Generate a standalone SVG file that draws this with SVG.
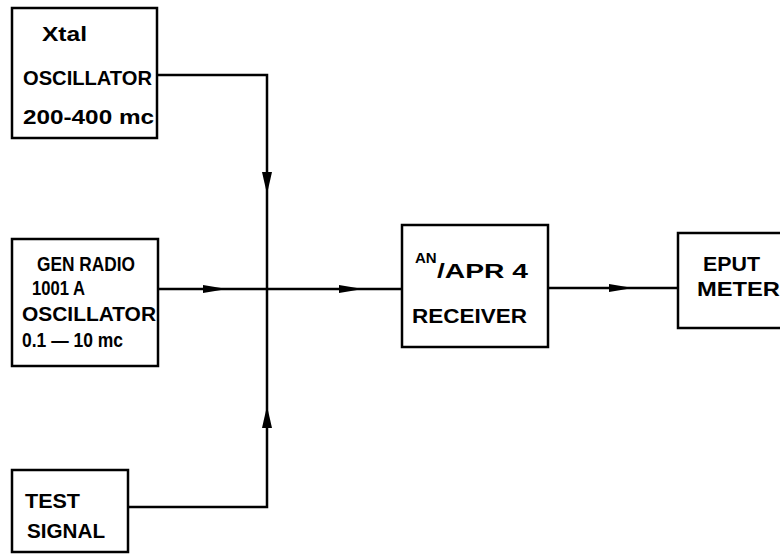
<svg xmlns="http://www.w3.org/2000/svg" width="780" height="554" viewBox="0 0 780 554">
<style>
.box{fill:#fff;stroke:#000;stroke-width:2.5}
.ln{fill:none;stroke:#000;stroke-width:2.5;stroke-linejoin:miter}
.t{font-family:"Liberation Sans",Arial,sans-serif;font-weight:bold;font-size:20px;fill:#000}
.ah{fill:#000}
</style>
<rect width="780" height="554" fill="#fff"/>
<g id="connectors">
<path class="ln" d="M157,75 H267 V507 H128"/>
<path class="ln" d="M158,289 H402"/>
<path class="ln" d="M548,288 H678"/>
<polygon class="ah" points="262,172 272,172 267,194"/>
<polygon class="ah" points="267,406 262,428 272,428"/>
<polygon class="ah" points="203,285 203,293 227,289"/>
<polygon class="ah" points="339,285 339,293 363,289"/>
<polygon class="ah" points="609,284 609,292 633,288"/>
</g>
<g id="xtal">
<rect class="box" x="12" y="8" width="145" height="130"/>
<text class="t" x="42" y="41" textLength="45" lengthAdjust="spacingAndGlyphs">Xtal</text>
<text class="t" x="23" y="85" textLength="129" lengthAdjust="spacingAndGlyphs">OSCILLATOR</text>
<text class="t" x="23" y="124" textLength="131" lengthAdjust="spacingAndGlyphs">200-400 mc</text>
</g>
<g id="genradio">
<rect class="box" x="12" y="239" width="146" height="127"/>
<text class="t" x="37" y="271" textLength="98" lengthAdjust="spacingAndGlyphs">GEN RADIO</text>
<text class="t" x="32" y="295" textLength="53" lengthAdjust="spacingAndGlyphs">1001 A</text>
<text class="t" x="22" y="321" textLength="134" lengthAdjust="spacingAndGlyphs">OSCILLATOR</text>
<text class="t" x="22" y="347" textLength="101" lengthAdjust="spacingAndGlyphs">0.1 — 10 mc</text>
</g>
<g id="receiver">
<rect class="box" x="402" y="225" width="146" height="122"/>
<text class="t"><tspan x="415" y="263" font-size="15">AN</tspan><tspan x="437" y="278" textLength="91" lengthAdjust="spacingAndGlyphs">/APR 4</tspan></text>
<text class="t" x="412" y="323" textLength="115" lengthAdjust="spacingAndGlyphs">RECEIVER</text>
</g>
<g id="eput">
<rect class="box" x="678" y="233" width="120" height="95"/>
<text class="t" x="703" y="271" textLength="57" lengthAdjust="spacingAndGlyphs">EPUT</text>
<text class="t" x="697" y="296" textLength="83" lengthAdjust="spacingAndGlyphs">METER</text>
</g>
<g id="testsignal">
<rect class="box" x="12" y="470" width="116" height="82"/>
<text class="t" x="25" y="508" textLength="55" lengthAdjust="spacingAndGlyphs">TEST</text>
<text class="t" x="27" y="538" textLength="78" lengthAdjust="spacingAndGlyphs">SIGNAL</text>
</g>
</svg>
